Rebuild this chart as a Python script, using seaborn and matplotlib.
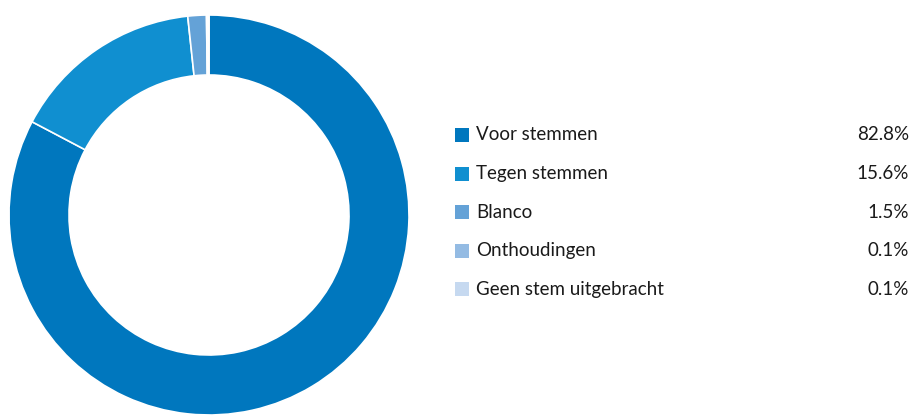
import matplotlib
matplotlib.use("Agg")
import matplotlib.pyplot as plt
import seaborn as sns
from matplotlib.patches import Rectangle

categories = ["Voor stemmen", "Tegen stemmen", "Blanco", "Onthoudingen", "Geen stem uitgebracht"]
values = [82.8, 15.6, 1.5, 0.1, 0.1]
colors = ["#0077BE", "#108FD0", "#64A2D7", "#94BBE3", "#C6D9F0"]

sns.set_theme(style="white")
plt.rcParams['font.family'] = ['Lato', 'DejaVu Sans']

W, H = 912, 418
fig = plt.figure(figsize=(W / 100, H / 100), dpi=100)
cx, cy, r = 209, 215, 200
ax = fig.add_axes([(cx - r) / W, (H - cy - r) / H, 2 * r / W, 2 * r / H])
ax.pie(values, colors=colors, startangle=90, counterclock=False,
       wedgeprops=dict(width=0.3, edgecolor="white", linewidth=1.2))
ax.set_xlim(-1, 1)
ax.set_ylim(-1, 1)
ax.set_aspect("equal")
ax.axis("off")

y0, dy = 135, 38.6
for i, (cat, val, col) in enumerate(zip(categories, values, colors)):
    y = y0 + i * dy
    fig.patches.append(Rectangle(((455) / W, (H - y - 7) / H), 14 / W, 14 / H,
                                 transform=fig.transFigure, facecolor=col, edgecolor="none"))
    fig.text(476 / W, (H - y) / H, cat, fontsize=13.5, va="center", ha="left", color="#1a1a1a")
    fig.text(909 / W, (H - y) / H, f"{val:.1f}%", fontsize=13.5, va="center", ha="right", color="#1a1a1a")

fig.savefig("out.png", dpi=100)
